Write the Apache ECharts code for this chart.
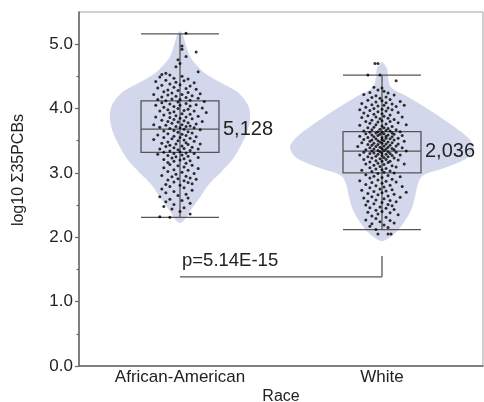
<!DOCTYPE html>
<html><head><meta charset="utf-8">
<script src="https://cdn.jsdelivr.net/npm/echarts@6/dist/echarts.min.js"></script>
<style>html,body{margin:0;padding:0;background:#fff}#c{width:484px;height:402px}</style>
</head><body><div id="c"></div>
<script>
// ---------- data ----------
const categories = ['African-American', 'White'];
const positions = [1, 2];
const yTicks = [0, 1, 2, 3, 4, 5];
const yMinorTicks = [0.5, 1.5, 2.5, 3.5, 4.5];
const xAxisName = 'Race';
const yAxisName = 'log10 Σ35PCBs';

// box stats: [whisker low, q1, median, q3, whisker high]
const boxAA = [2.31, 3.32, 3.68, 4.12, 5.16];
const boxWhite = [2.12, 3.00, 3.34, 3.64, 4.52];
const countLabels = ['5,128', '2,036'];

// violin profiles: value levels and half-widths (x units)
const violinAAValues = [2.22, 2.31, 2.39, 2.60, 2.81, 3.01, 3.22, 3.43, 3.63, 3.84, 4.05, 4.25, 4.40, 4.56, 4.78, 4.98, 5.16, 5.20];
const violinAAWidths = [0.0, 0.032, 0.045, 0.094, 0.139, 0.203, 0.262, 0.302, 0.332, 0.347, 0.337, 0.287, 0.203, 0.119, 0.054, 0.030, 0.013, 0.0];
const violinWhiteValues = [1.94, 2.00, 2.11, 2.26, 2.42, 2.62, 2.83, 2.96, 3.09, 3.24, 3.40, 3.56, 3.71, 3.87, 4.02, 4.18, 4.33, 4.49, 4.62, 4.72];
const violinWhiteWidths = [0.0, 0.040, 0.079, 0.114, 0.144, 0.163, 0.178, 0.203, 0.322, 0.426, 0.455, 0.421, 0.361, 0.287, 0.213, 0.129, 0.045, 0.030, 0.025, 0.0];

// individual points: [jitter offset, value]
const pointsAA = [
[0.03,5.17],[0.01,4.97],[0.01,4.92],[0.08,4.88],[0.03,4.81],[-0.01,4.76],[0.09,4.57],[-0.02,4.65],[0.0,4.70],[-0.07,4.55],
[-0.09,4.53],[-0.05,4.52],[-0.10,4.49],[-0.03,4.47],[0.01,4.50],[0.04,4.46],[-0.07,4.44],[-0.12,4.42],[-0.02,4.41],[0.02,4.43],[0.07,4.40],[-0.05,4.38],[-0.09,4.36],[0.0,4.37],[0.05,4.35],[-0.03,4.33],[-0.11,4.32],[0.03,4.31],[-0.06,4.29],[0.08,4.30],[-0.01,4.28],[-0.08,4.26],[0.04,4.25],[-0.04,4.24],[0.10,4.23],[-0.13,4.22],[0.01,4.22],[-0.06,4.21],[0.06,4.20],[-0.02,4.19],[-0.09,4.18],[0.03,4.17],[0.09,4.16],[-0.04,4.15],[-0.11,4.14],[0.0,4.14],[0.05,4.13],[-0.07,4.12],[0.12,4.11],[-0.01,4.10],
[-0.09,4.09],[0.03,4.08],[-0.05,4.07],[0.08,4.06],[-0.12,4.05],[0.0,4.05],[0.05,4.04],[-0.03,4.03],[-0.08,4.02],[0.11,4.01],[-0.01,4.00],[0.04,3.99],[-0.06,3.98],[0.02,3.97],[-0.10,3.96],[0.07,3.96],[-0.03,3.95],[0.13,3.94],[-0.05,3.93],[0.01,3.92],[0.05,3.91],[-0.08,3.90],[-0.02,3.89],[0.09,3.88],[-0.12,3.87],[0.03,3.87],[-0.05,3.86],[0.00,3.85],[0.06,3.84],[-0.03,3.83],[-0.09,3.82],[0.02,3.81],[0.11,3.80],[-0.06,3.80],[-0.01,3.79],[0.04,3.78],[-0.04,3.77],[0.08,3.76],[-0.13,3.75],[0.01,3.75],[-0.07,3.74],[0.05,3.73],[-0.02,3.72],[0.03,3.72],[-0.10,3.71],[0.07,3.70],[0.0,3.70],[-0.05,3.69],[0.02,3.68],[0.10,3.67],[-0.03,3.66],[-0.08,3.65],[0.04,3.64],[-0.01,3.63],[0.06,3.62],
[-0.06,3.61],[0.01,3.60],[-0.11,3.59],[0.03,3.58],[-0.03,3.57],[0.08,3.56],[-0.08,3.55],[0.0,3.55],[0.05,3.54],[-0.04,3.53],[-0.13,3.52],[0.02,3.51],[-0.01,3.50],[0.07,3.49],[-0.06,3.48],[0.03,3.47],[-0.09,3.46],[0.10,3.45],[-0.02,3.45],[0.04,3.44],[-0.05,3.43],[0.01,3.42],[-0.07,3.41],[0.06,3.40],[-0.03,3.39],[0.02,3.38],[-0.10,3.37],[0.09,3.37],[-0.01,3.36],[0.05,3.35],[-0.05,3.34],[0.0,3.33],[-0.08,3.32],[0.03,3.31],[-0.03,3.30],[0.07,3.30],[-0.11,3.29],[0.01,3.28],[-0.06,3.27],[0.04,3.26],[-0.02,3.25],[0.09,3.24],[-0.04,3.23],[0.02,3.22],[-0.08,3.21],[0.0,3.20],[0.05,3.19],[-0.03,3.18],[-0.06,3.16],[0.03,3.15],
[-0.05,3.13],[0.06,3.12],[-0.01,3.11],[0.02,3.09],[-0.08,3.08],[0.09,3.07],[-0.03,3.05],[0.04,3.04],[-0.06,3.02],[0.01,3.01],[0.07,2.99],[-0.02,2.98],[-0.09,2.96],[0.03,2.95],[-0.04,2.94],[0.05,2.92],[-0.01,2.91],[0.08,2.90],[-0.06,2.89],[0.02,2.88],[-0.03,2.86],[0.04,2.85],[0.06,2.83],[-0.07,2.82],[0.0,2.81],
[-0.05,2.79],[0.02,2.77],[-0.09,2.75],[0.06,2.73],[-0.03,2.71],[-0.07,2.69],[0.03,2.67],[-0.01,2.65],[-0.10,2.63],[0.04,2.61],[-0.05,2.59],[0.01,2.57],[-0.07,2.55],[0.05,2.53],[-0.03,2.51],[-0.08,2.48],[0.02,2.46],[-0.04,2.44],[0.00,2.40],[0.05,2.36],[-0.10,2.32],[-0.05,2.31]
];
const pointsWhite = [
[-0.035,4.70],[-0.02,4.70],[-0.07,4.52],[-0.01,4.52],[0.07,4.43],
[-0.04,4.33],[0.0,4.32],[-0.02,4.29],[0.01,4.27],[-0.06,4.25],[0.03,4.24],[-0.09,4.22],[-0.03,4.20],[0.06,4.21],[0.02,4.18],[-0.05,4.17],[-0.01,4.16],[0.04,4.14],[-0.07,4.13],[0.0,4.12],[0.09,4.11],[-0.03,4.10],[0.02,4.09],[-0.10,4.08],[0.05,4.07],[-0.05,4.06],[0.01,4.05],[-0.02,4.04],[0.07,4.03],[-0.08,4.02],[0.03,4.01],[-0.04,4.00],[0.0,3.99],[0.11,4.05],[-0.11,3.98],
[0.05,3.98],[-0.06,3.97],[0.02,3.96],[-0.02,3.95],[0.08,3.94],[-0.09,3.93],[0.0,3.92],[-0.04,3.91],[0.04,3.90],[-0.07,3.89],[0.01,3.88],[0.10,3.87],[-0.03,3.87],[-0.10,3.86],[0.03,3.85],[-0.01,3.84],[0.06,3.83],[-0.05,3.82],[0.0,3.81],[-0.08,3.80],[0.04,3.80],[-0.02,3.79],[0.08,3.78],[-0.06,3.77],[0.02,3.76],[-0.03,3.75],[0.12,3.75],[-0.11,3.74],[0.0,3.73],[0.05,3.72],[-0.04,3.71],[0.01,3.70],[-0.07,3.70],[0.03,3.69],[-0.01,3.68],[0.07,3.67],[-0.05,3.67],[0.02,3.66],[-0.09,3.65],[0.04,3.65],[-0.02,3.64],[0.09,3.64],[0.0,3.63],[-0.06,3.63],[0.05,3.62],
[-0.03,3.62],[0.01,3.61],[-0.08,3.61],[0.06,3.60],[-0.01,3.60],[0.03,3.59],[-0.05,3.59],[0.10,3.58],[-0.02,3.58],[0.02,3.57],[-0.11,3.57],[0.05,3.56],[-0.04,3.56],[0.0,3.55],[-0.07,3.55],[0.08,3.54],[0.02,3.54],[-0.03,3.53],[0.04,3.53],[-0.09,3.52],[0.0,3.52],[-0.05,3.51],[0.06,3.51],[0.01,3.50],[-0.02,3.50],[0.11,3.49],[-0.06,3.49],[0.03,3.48],[-0.01,3.48],[-0.10,3.47],[0.05,3.47],[0.0,3.46],[-0.04,3.46],[0.08,3.45],[0.02,3.45],[-0.07,3.44],[-0.02,3.44],[0.04,3.43],[-0.05,3.43],[0.01,3.42],[0.07,3.42],[-0.03,3.41],[-0.12,3.41],[0.03,3.40],[-0.01,3.40],[0.10,3.39],[-0.06,3.39],[0.0,3.38],[0.05,3.38],[-0.04,3.37],[0.02,3.37],[-0.08,3.36],[0.06,3.36],[-0.02,3.35],[0.01,3.35],[0.12,3.34],[-0.05,3.34],[0.03,3.33],[-0.01,3.33],[-0.09,3.32],[0.07,3.32],[0.0,3.31],[-0.04,3.31],[0.04,3.30],[-0.06,3.30],[0.02,3.29],[-0.02,3.29],[0.09,3.28],[-0.11,3.28],[0.05,3.27],[0.0,3.27],[-0.03,3.26],[0.03,3.25],[-0.07,3.25],[0.01,3.24],[0.06,3.23],[-0.05,3.23],[-0.01,3.22],[0.02,3.21],[-0.09,3.21],[0.08,3.20],[-0.03,3.19],[0.04,3.18],[0.0,3.18],[-0.06,3.17],[0.03,3.16],[-0.02,3.15],[0.11,3.14],[-0.08,3.14],[0.01,3.13],[-0.04,3.12],[0.05,3.11],[-0.01,3.10],[0.07,3.09],[-0.06,3.08],[0.02,3.07],[-0.03,3.06],[0.0,3.05],[-0.10,3.04],[0.04,3.03],[-0.05,3.02],[0.01,3.01],[0.06,3.00],
[-0.02,2.99],[-0.08,2.97],[0.03,2.96],[-0.04,2.95],[0.09,2.94],[0.0,2.93],[-0.06,2.92],[0.05,2.90],[-0.02,2.89],[-0.11,2.88],[0.02,2.87],[0.07,2.86],[-0.05,2.85],[0.0,2.84],[-0.08,2.82],[0.04,2.81],[-0.03,2.80],[0.10,2.79],[0.01,2.78],[-0.06,2.77],[-0.01,2.75],[0.05,2.74],[-0.10,2.73],[0.02,2.72],[-0.04,2.71],[0.12,2.70],[0.0,2.69],[-0.07,2.68],[0.06,2.67],[-0.02,2.66],[0.03,2.64],[-0.05,2.63],[0.09,2.62],[-0.09,2.61],[0.01,2.60],[-0.03,2.58],[0.04,2.57],[-0.07,2.56],[0.07,2.55],[0.0,2.54],[-0.04,2.52],[0.03,2.51],[-0.08,2.50],[0.05,2.49],[-0.01,2.47],[-0.06,2.46],[0.02,2.45],[0.06,2.43],[-0.03,2.42],[0.0,2.40],[-0.07,2.39],[0.04,2.38],[-0.02,2.36],[0.08,2.35],[-0.05,2.33],
[0.02,2.31],[-0.03,2.29],[-0.08,2.27],[0.04,2.26],[-0.01,2.24],[0.06,2.22],[-0.05,2.21],[0.01,2.19],[-0.06,2.17],[0.03,2.15],[-0.03,2.12],[-0.02,2.05],[0.03,2.05],[0.045,2.05]
];

// significance bracket: from group 1 to group 2, bar level and tick top level
const pValueText = 'p=5.14E-15';
const bracketLevels = [1.385, 1.71];

// ---------- styles ----------
const FONT = 'Arial, "Liberation Sans", sans-serif';
const TEXT = '#222';
const AXIS = '#666';
const BOX_HALF = 0.193;
const VIOLIN = '#d3d7ec';
const LINE = '#555';

const violins = [
  {values: violinAAValues, widths: violinAAWidths},
  {values: violinWhiteValues, widths: violinWhiteWidths}
];
const boxes = [boxAA, boxWhite];

function violinItem(params, api) {
  const g = violins[params.dataIndex];
  const x = api.value(0);
  const pts = [];
  for (let i = 0; i < g.values.length; i++) pts.push(api.coord([x + g.widths[i], g.values[i]]));
  for (let i = g.values.length - 2; i >= 1; i--) pts.push(api.coord([x - g.widths[i], g.values[i]]));
  return {type: 'polygon', shape: {points: pts, smooth: 0.3}, style: {fill: VIOLIN}};
}

function boxItem(params, api) {
  const x = api.value(0);
  const hw = api.size([BOX_HALF, 0])[0];
  const c = api.coord([x, 0])[0];
  const y = [1,2,3,4,5].map(i => api.coord([x, api.value(i)])[1]);
  const ls = {stroke: LINE, lineWidth: 1.3, fill: null};
  return {type: 'group', children: [
    {type: 'line', shape: {x1: c, y1: y[0], x2: c, y2: y[4]}, style: ls},
    {type: 'line', shape: {x1: c - hw, y1: y[0], x2: c + hw, y2: y[0]}, style: ls},
    {type: 'line', shape: {x1: c - hw, y1: y[4], x2: c + hw, y2: y[4]}, style: ls},
    {type: 'rect', shape: {x: c - hw, y: y[3], width: 2 * hw, height: y[1] - y[3]}, style: ls},
    {type: 'line', shape: {x1: c - hw, y1: y[2], x2: c + hw, y2: y[2]}, style: ls},
    {type: 'text', x: c + hw + 4, y: y[2], style: {text: countLabels[params.dataIndex], fill: TEXT, font: '20px ' + FONT, align: 'left', verticalAlign: 'middle'}}
  ]};
}

function bracketItem(params, api) {
  const p1 = api.coord([api.value(0), api.value(2)]);
  const p2 = api.coord([api.value(1), api.value(2)]);
  const p3 = api.coord([api.value(1), api.value(3)]);
  const ls = {stroke: LINE, lineWidth: 1.3, fill: null};
  return {type: 'group', children: [
    {type: 'line', shape: {x1: p1[0], y1: p1[1], x2: p2[0], y2: p2[1]}, style: ls},
    {type: 'line', shape: {x1: p2[0], y1: p2[1], x2: p3[0], y2: p3[1]}, style: ls},
    {type: 'text', x: p1[0] + 2, y: p1[1] - 6, style: {text: pValueText, fill: TEXT, font: '18.5px ' + FONT, align: 'left', verticalAlign: 'bottom'}}
  ]};
}

const chart = echarts.init(document.getElementById('c'), null, {renderer: 'canvas'});
chart.setOption({
  animation: false,
  backgroundColor: '#fff',
  grid: {left: 79, right: 1, top: 12, bottom: 36, show: true, borderColor: '#a0a0a0', borderWidth: 1, containLabel: false, outerBoundsMode: 'none'},
  xAxis: {
    type: 'value', min: 0.5, max: 2.5,
    name: xAxisName, nameLocation: 'middle', nameGap: 23, nameMoveOverlap: false,
    nameTextStyle: {color: TEXT, fontSize: 16, fontFamily: FONT},
    axisLine: {show: true, lineStyle: {color: AXIS, width: 1.5}},
    axisTick: {show: false},
    splitLine: {show: false},
    axisLabel: {customValues: positions, formatter: v => categories[positions.indexOf(v)] || '', color: TEXT, fontSize: 17, fontFamily: FONT, margin: 3}
  },
  yAxis: [{
    type: 'value', min: 0, max: 5.5,
    axisLine: {show: true, lineStyle: {color: AXIS, width: 1.5}},
    axisTick: {show: true, customValues: yTicks, length: 4, lineStyle: {color: AXIS, width: 1.2}},
    splitLine: {show: false},
    axisLabel: {customValues: yTicks, formatter: v => v.toFixed(1), color: TEXT, fontSize: 17, fontFamily: FONT, margin: 6}
  }, {
    type: 'value', min: 0, max: 5.5, position: 'left',
    axisLine: {show: false},
    axisTick: {show: true, customValues: yMinorTicks, length: 2.5, lineStyle: {color: AXIS, width: 1.2}},
    axisLabel: {show: false},
    splitLine: {show: false}
  }],
  graphic: [{
    type: 'text', x: 19, y: 170, rotation: Math.PI / 2,
    style: {text: yAxisName, fill: TEXT, font: '16px ' + FONT, align: 'center', verticalAlign: 'middle'}
  }],
  series: [
    {type: 'custom', renderItem: violinItem, data: positions.map((p, i) => [p, violins[i].values[0], violins[i].values[violins[i].values.length - 1]]), encode: {x: 0, y: [1, 2]}, z: 1, silent: true},
    {type: 'custom', renderItem: boxItem, data: positions.map((p, i) => [p].concat(boxes[i])), encode: {x: 0, y: [1, 5]}, z: 2, silent: true},
    {type: 'scatter', data: pointsAA.map(d => [positions[0] + d[0], d[1]]), symbolSize: 3, itemStyle: {color: '#000'}, z: 3, silent: true},
    {type: 'scatter', data: pointsWhite.map(d => [positions[1] + d[0], d[1]]), symbolSize: 3, itemStyle: {color: '#000'}, z: 3, silent: true},
    {type: 'custom', renderItem: bracketItem, data: [[positions[0], positions[1], bracketLevels[0], bracketLevels[1]]], encode: {x: [0, 1], y: [2, 3]}, z: 4, silent: true}
  ]
});
</script>
</body></html>
